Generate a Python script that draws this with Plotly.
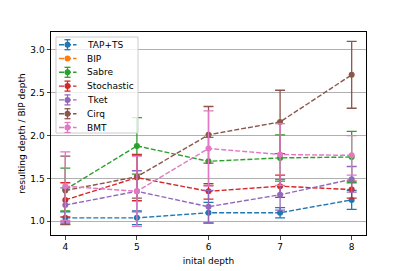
import plotly.graph_objects as go

x_depth = [4, 5, 6, 7, 8]
series_names = ["TAP+TS", "BIP", "Sabre", "Stochastic", "Tket", "Cirq", "BMT"]
colors = ["#1f77b4", "#ff7f0e", "#2ca02c", "#d62728", "#9467bd", "#8c564b", "#e377c2"]

tap_ts = [1.04, 1.04, 1.10, 1.10, 1.25]
tap_ts_err = [0.07, 0.08, 0.12, 0.06, 0.11]
bip = []
bip_err = []
sabre = [1.37, 1.88, 1.70, 1.74, 1.75]
sabre_err = [0.25, 0.33, 0.28, 0.27, 0.30]
stochastic = [1.25, 1.51, 1.35, 1.41, 1.37]
stochastic_err = [0.20, 0.27, 0.09, 0.13, 0.10]
tket = [1.19, 1.35, 1.17, 1.31, 1.49]
tket_err = [0.20, 0.24, 0.19, 0.18, 0.15]
cirq = [1.36, 1.52, 2.01, 2.16, 2.71]
cirq_err = [0.40, 0.25, 0.33, 0.37, 0.39]
bmt = [1.41, 1.35, 1.85, 1.78, 1.77]
bmt_err = [0.40, 0.41, 0.44, 0.36, 0.23]

values = [tap_ts, bip, sabre, stochastic, tket, cirq, bmt]
errors = [tap_ts_err, bip_err, sabre_err, stochastic_err, tket_err, cirq_err, bmt_err]

OFF = 8  # page body margin
W, H = 407 - OFF, 271 - OFF
# plot area in window pixels
WL, WR, WT, WB = 51, 366, 32, 235
L, R, T, B = WL - OFF, WR - OFF, WT - OFF, WB - OFF
DASH = "5px,2px"

def px(x):  # window px -> paper
    return (x - WL) / (WR - WL)

def py(y):
    return (WB - y) / (WB - WT)

fig = go.Figure()
for name, col, ys, es in zip(series_names, colors, values, errors):
    if len(ys) == 0:
        continue
    fig.add_trace(go.Scatter(
        x=x_depth, y=ys, name=name, mode="lines+markers", showlegend=False,
        line=dict(color=col, width=1.4, dash=DASH),
        marker=dict(color=col, size=6),
        error_y=dict(type="data", array=es, visible=True,
                     color=col, thickness=1.3, width=5),
    ))

# manual legend (matplotlib style)
shapes = []
annotations = []
shapes.append(dict(type="rect", xref="paper", yref="paper",
                   x0=px(56), x1=px(138), y0=py(133), y1=py(37),
                   fillcolor="rgba(255,255,255,0.8)", line=dict(color="#cccccc", width=1),
                   layer="above"))
row0, step = 44.7, 13.8
for i, (name, col, es) in enumerate(zip(series_names, colors, errors)):
    yc = row0 + i * step
    shapes.append(dict(type="line", xref="paper", yref="paper",
                       x0=px(59), x1=px(76.5), y0=py(yc), y1=py(yc),
                       line=dict(color=col, width=1.4, dash=DASH), layer="above"))
    if len(es) > 0:
        shapes.append(dict(type="line", xref="paper", yref="paper",
                           x0=px(67.5), x1=px(67.5), y0=py(yc - 5), y1=py(yc + 5),
                           line=dict(color=col, width=1.3), layer="above"))
        for dy in (-5, 5):
            shapes.append(dict(type="line", xref="paper", yref="paper",
                               x0=px(64.5), x1=px(70.5), y0=py(yc + dy), y1=py(yc + dy),
                               line=dict(color=col, width=1.3), layer="above"))
    shapes.append(dict(type="circle", xref="paper", yref="paper",
                       xsizemode="pixel", ysizemode="pixel",
                       xanchor=px(67.5), yanchor=py(yc),
                       x0=-3, x1=3, y0=-3, y1=3,
                       fillcolor=col, line=dict(color=col, width=0), layer="above"))
    annotations.append(dict(xref="paper", yref="paper", x=px(84.5), y=py(yc),
                            xanchor="left", yanchor="middle", text=name, showarrow=False,
                            font=dict(size=9, color="black")))

fig.update_layout(
    width=W, height=H,
    margin=dict(l=L, r=W - R, t=T, b=H - B, pad=0),
    paper_bgcolor="white", plot_bgcolor="white",
    font=dict(family="DejaVu Sans", size=9, color="black"),
    showlegend=False,
    shapes=shapes, annotations=annotations,
    xaxis=dict(title=dict(text="inital depth", font=dict(size=9), standoff=6),
               range=[3.8, 8.2], tickvals=x_depth, ticks="outside", ticklen=3.5,
               showgrid=False, showline=True, linecolor="black", mirror=True,
               zeroline=False, tickfont=dict(size=9), automargin=False),
    yaxis=dict(title=dict(text="resulting depth / BIP depth", font=dict(size=9), standoff=3),
               range=[0.84, 3.21], tickvals=[1.0, 1.5, 2.0, 2.5, 3.0],
               ticktext=["1.0", "1.5", "2.0", "2.5", "3.0"],
               ticks="outside", ticklen=3.5, showgrid=True, gridcolor="#b0b0b0",
               gridwidth=0.8, showline=True, linecolor="black", mirror=True,
               zeroline=False, tickfont=dict(size=9), automargin=False),
)

fig.write_html("out.html")
